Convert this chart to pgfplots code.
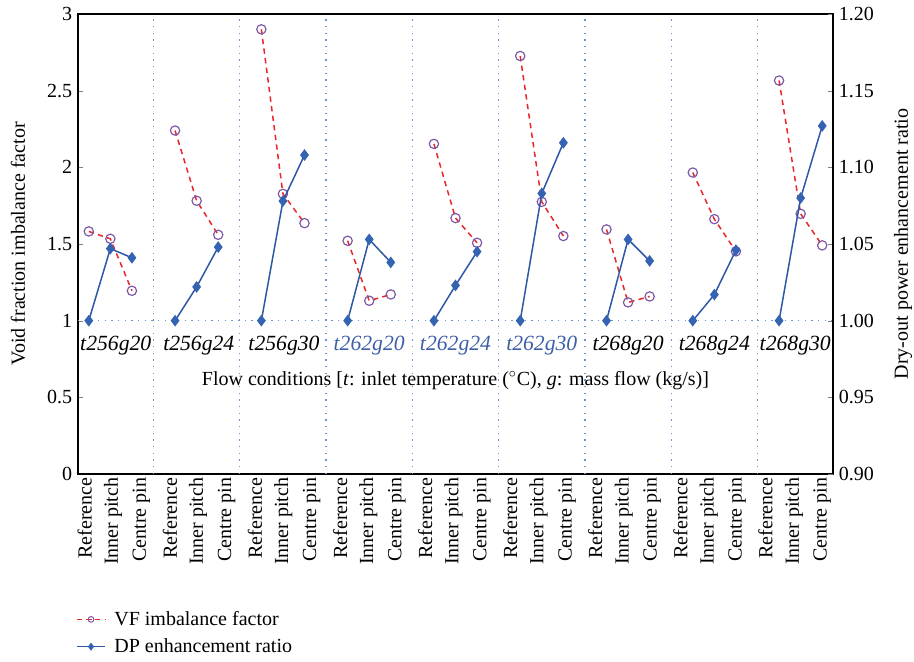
\documentclass[border=0pt]{standalone}
\usepackage{fontspec}
\setmainfont{Liberation Serif}
\usepackage{pgfplots}
\pgfplotsset{compat=1.18}
\definecolor{vfred}{HTML}{E8262B}
\definecolor{vfpurple}{HTML}{7D55A5}
\definecolor{dpblue}{HTML}{2E58A6}
\definecolor{dpmark}{HTML}{3463B2}
\definecolor{sepblue}{HTML}{6A96D6}
\definecolor{grpblue}{HTML}{3E5FA8}
\tikzset{
  sepline/.style={sepblue, line width=0.75pt, dash pattern=on 0.75pt off 3.25pt},
}
\pgfplotsset{
  vfstyle/.style={vfred, line width=0.9pt, dash pattern=on 3.2pt off 2.6pt, mark=o, mark size=2.8pt, mark options={solid, draw=vfpurple, line width=0.7pt}},
  dpstyle/.style={dpblue, line width=0.9pt, solid, mark=diamond*, mark size=2.8pt, mark options={solid, draw=dpmark, fill=dpmark}},
}
\begin{document}
\begin{tikzpicture}[font=\fontsize{12}{14}\selectfont]
\begin{axis}[
  scale only axis, width=453pt, height=276pt,
  xmin=-0.5, xmax=34.5, ymin=0, ymax=3,
  axis line style={line width=1pt},
  tick align=inside, major tick length=3pt,
  /pgf/number format/assume math mode=true,
  ytick pos=left,
  ytick={0,0.5,1,1.5,2,2.5,3},
  yticklabels={0,0.5,1,1.5,2,2.5,3},
  xtick={-0.19,1.13,2.44,3.76,5.07,6.39,7.70,9.02,10.33,11.65,12.96,14.28,15.59,16.91,18.22,19.54,20.85,22.17,23.48,24.80,26.11,27.43,28.74,30.06,31.37,32.69,34.00},
  xticklabels={Reference,Inner pitch,Centre pin,Reference,Inner pitch,Centre pin,Reference,Inner pitch,Centre pin,Reference,Inner pitch,Centre pin,Reference,Inner pitch,Centre pin,Reference,Inner pitch,Centre pin,Reference,Inner pitch,Centre pin,Reference,Inner pitch,Centre pin,Reference,Inner pitch,Centre pin},
  xticklabel style={rotate=90, anchor=east, inner sep=2pt},
  x tick style={draw=none},
  extra x ticks={3,7,11,15,19,23,27,31},
  extra x tick labels={},
  extra x tick style={grid=major, major grid style={sepline}, major tick length=0pt},
  extra y ticks={1},
  extra y tick labels={},
  extra y tick style={grid=major, major grid style={sepline}, major tick length=0pt},
  ylabel={Void fraction imbalance factor},
  every axis y label/.style={at={(rel axis cs:0,0.5)}, xshift=-36pt, rotate=90, anchor=center},
  unbounded coords=jump,
]
\addplot[vfstyle] coordinates {
 (0,1.582) (1,1.534) (2,1.195) (3,nan)
 (4,2.240) (5,1.782) (6,1.560) (7,nan)
 (8,2.900) (9,1.827) (10,1.636) (11,nan)
 (12,1.521) (13,1.130) (14,1.171) (15,nan)
 (16,2.153) (17,1.669) (18,1.508) (19,nan)
 (20,2.726) (21,1.775) (22,1.552) (23,nan)
 (24,1.595) (25,1.119) (26,1.158) (27,nan)
 (28,1.966) (29,1.662) (30,1.452) (31,nan)
 (32,2.566) (33,1.697) (34,1.491)
};
\node[font=\fontsize{13}{15}\selectfont\itshape] at (axis cs:1.25,0.835) {t256g20};
\node[font=\fontsize{13}{15}\selectfont\itshape] at (axis cs:5.1,0.835) {t256g24};
\node[font=\fontsize{13}{15}\selectfont\itshape] at (axis cs:9.05,0.835) {t256g30};
\node[font=\fontsize{13}{15}\selectfont\itshape, text=grpblue] at (axis cs:13,0.835) {t262g20};
\node[font=\fontsize{13}{15}\selectfont\itshape, text=grpblue] at (axis cs:17,0.835) {t262g24};
\node[font=\fontsize{13}{15}\selectfont\itshape, text=grpblue] at (axis cs:21,0.835) {t262g30};
\node[font=\fontsize{13}{15}\selectfont\itshape] at (axis cs:25,0.835) {t268g20};
\node[font=\fontsize{13}{15}\selectfont\itshape] at (axis cs:29,0.835) {t268g24};
\node[font=\fontsize{13}{15}\selectfont\itshape] at (axis cs:32.75,0.835) {t268g30};
\node at (rel axis cs:0.5,0.204) {Flow conditions [\textit{t}: inlet temperature ($^{\circ}$C), \textit{g}: mass flow (kg/s)]};
\end{axis}
\begin{axis}[
  scale only axis, width=453pt, height=276pt,
  xmin=-0.5, xmax=34.5, ymin=0.9, ymax=1.2,
  axis y line*=right, axis x line=none,
  axis line style={line width=1pt, -},
  tick align=inside, major tick length=3pt,
  ytick={0.9,0.95,1.0,1.05,1.1,1.15,1.2},
  yticklabel style={/pgf/number format/.cd, fixed, fixed zerofill, precision=2, assume math mode=true},
  ylabel={Dry-out power enhancement ratio},
  every axis y label/.style={at={(rel axis cs:1,0.5)}, xshift=42pt, rotate=90, anchor=center},
  unbounded coords=jump,
  legend style={at={(rel axis cs:-0.003,-0.29)}, anchor=north west, draw=none, fill=none, inner sep=0pt, row sep=2.5pt, font=\fontsize{12}{14}\selectfont, nodes={inner xsep=5pt}},
  legend cell align=left,
  legend image post style={mark size=1.7pt},
]
\addlegendimage{vfred, line width=0.9pt, dash pattern=on 3pt off 2.6pt, mark=o, mark options={solid, draw=vfpurple, line width=0.6pt}}
\addlegendentry{VF imbalance factor}
\addplot[dpstyle] coordinates {
 (0,1.000) (1,1.047) (2,1.041) (3,nan)
 (4,1.000) (5,1.022) (6,1.048) (7,nan)
 (8,1.000) (9,1.078) (10,1.108) (11,nan)
 (12,1.000) (13,1.053) (14,1.038) (15,nan)
 (16,1.000) (17,1.023) (18,1.045) (19,nan)
 (20,1.000) (21,1.083) (22,1.116) (23,nan)
 (24,1.000) (25,1.053) (26,1.039) (27,nan)
 (28,1.000) (29,1.017) (30,1.046) (31,nan)
 (32,1.000) (33,1.080) (34,1.127)
};
\addlegendentry{DP enhancement ratio}
\end{axis}
\pgfresetboundingbox
\path ([xshift=-46.8pt,yshift=-112.2pt]current axis.south west) rectangle ([xshift=48.6pt,yshift=8.4pt]current axis.north east);
\end{tikzpicture}
\end{document}
